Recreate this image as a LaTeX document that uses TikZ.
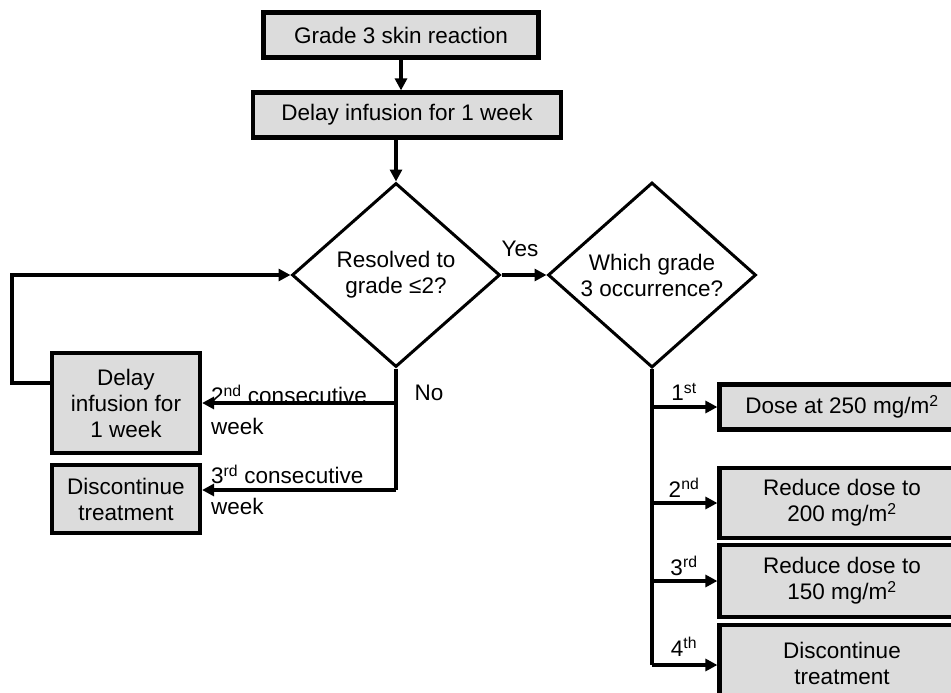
\documentclass[tikz,border=0pt]{standalone}
\usepackage{fontspec}
\setmainfont{Liberation Sans}
\usetikzlibrary{shapes.geometric,arrows.meta,calc}
\definecolor{boxgray}{HTML}{DCDCDC}
\begin{document}
\begin{tikzpicture}[x=1pt,y=-1pt,
  every node/.style={font=\fontsize{22.5}{26}\selectfont, inner sep=0pt},
  box/.style={draw, line width=4.2pt, fill=boxgray, align=center},
  dia/.style={draw, diamond, line width=3pt, align=center},
  conn/.style={line width=4.2pt},
  arr/.style={line width=4.2pt, -{Triangle[length=12pt,width=12pt]}},
  lab/.style={align=left}]
\useasboundingbox (0,0) rectangle (951,693);
\clip (0,0) rectangle (951,693);
% boxes
\node[box, minimum width=275, minimum height=45] (g) at (401,35) {Grade 3 skin reaction};
\node[box, minimum width=308, minimum height=45] (b2) at (407,115) {Delay infusion for 1 week};
\node[dia, minimum width=208, minimum height=184] (d1) at (396,275) {Resolved to\\grade ≤2?};
\node[dia, minimum width=208, minimum height=184] (d2) at (652,275) {Which grade\\3 occurrence?};
\node[box, minimum width=148, minimum height=100] (del) at (126,403) {Delay\\infusion for\\1 week};
\node[box, minimum width=148, minimum height=68] (dis) at (126,499) {Discontinue\\treatment};
\node[box, minimum width=245, minimum height=45] (r1) at (842,407) {Dose at 250 mg/m\textsuperscript{2}};
\node[box, minimum width=245, minimum height=70] (r2) at (842,503) {Reduce dose to\\200 mg/m\textsuperscript{2}};
\node[box, minimum width=245, minimum height=72] (r3) at (842,581) {Reduce dose to\\150 mg/m\textsuperscript{2}};
\node[box, minimum width=245, minimum height=76] (r4) at (842,663) {Discontinue\\treatment};
% coordinates
\coordinate (nb) at (396,490);
\coordinate (lp) at (12,275);
\coordinate (rb) at (652,665);
% connectors
\draw[arr] (g.south) -- (g.south |- b2.north);
\draw[arr] (d1.north |- b2.south) -- (d1.north);
\draw[arr] (d1.east) -- (d2.west);
\draw[conn] (d1.south) -- (nb);
\draw[arr] (d1.south |- del.east) -- (del.east);
\draw[arr] (nb) -- (dis.east |- nb);
\draw[arr] ([yshift=20pt]del.west) -| (lp) -- (d1.west);
\draw[conn] (d2.south) -- (rb);
\draw[arr] (d2.south |- r1.west) -- (r1.west);
\draw[arr] (d2.south |- r2.west) -- (r2.west);
\draw[arr] (d2.south |- r3.west) -- (r3.west);
\draw[arr] (rb) -- (r4.west |- rb);
% labels
\node (yes) at (520,249) {Yes};
\node (no) at (429,393) {No};
\node[lab, anchor=west] (l2) at (211,410) {2\textsuperscript{nd} consecutive\\[5pt]week};
\node[lab, anchor=west] (l3) at (211,490) {3\textsuperscript{rd} consecutive\\[5pt]week};
\node (o1) at (684,392) {1\textsuperscript{st}};
\node (o2) at (684,488) {2\textsuperscript{nd}};
\node (o3) at (684,566) {3\textsuperscript{rd}};
\node (o4) at (684,647) {4\textsuperscript{th}};
\end{tikzpicture}
\end{document}
